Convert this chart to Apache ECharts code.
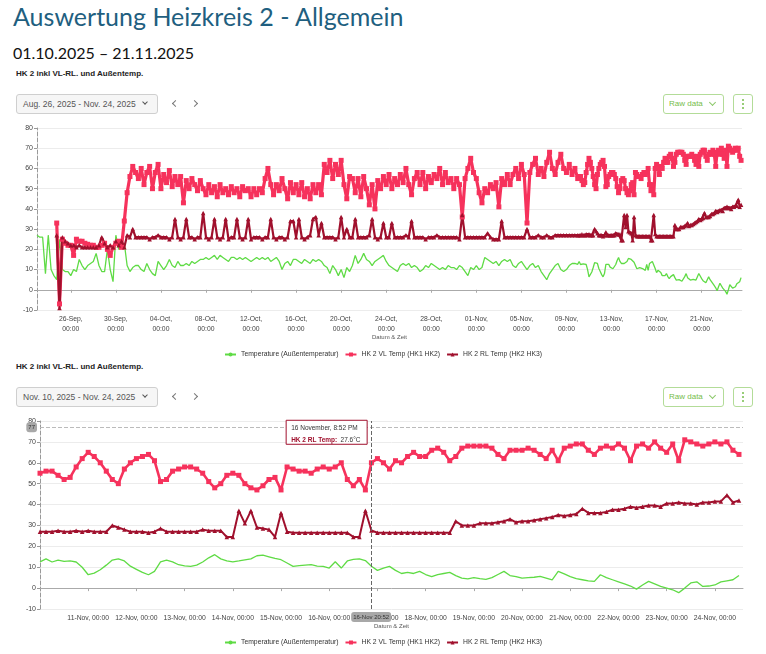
<!DOCTYPE html>
<html>
<head>
<meta charset="utf-8">
<title>Auswertung Heizkreis 2 - Allgemein</title>
<script src="https://cdn.jsdelivr.net/npm/echarts@6/dist/echarts.min.js"></script>
<style>
  html, body { margin: 0; padding: 0; background: #fff; }
  #page { position: relative; width: 766px; height: 654px; overflow: hidden; font-family: 'Liberation Sans', Arial, sans-serif; }
  .title { position: absolute; left: 13px; top: 1px; font-family: Lato, 'Open Sans', sans-serif; font-size: 25px; color: #1f5f80; white-space: nowrap; }
  .period { position: absolute; left: 13px; top: 43px; font-family: Lato, 'Open Sans', sans-serif; font-size: 16px; color: #111; white-space: nowrap; }
  .caption { position: absolute; left: 16px; font-size: 8px; font-weight: bold; color: #222; white-space: nowrap; }
  .range { position: absolute; left: 16px; width: 142px; height: 20px; box-sizing: border-box; border: 1px solid #cfcfcf; border-radius: 3px; background: #f6f6f6; font-size: 8.5px; color: #555; line-height: 18px; padding-left: 6px; white-space: nowrap; }
  .range .chev { position: absolute; right: 10px; top: 5px; width: 3px; height: 3px; border-right: 1.4px solid #555; border-bottom: 1.4px solid #555; transform: rotate(45deg); }
  .nav { position: absolute; width: 4px; height: 4px; border-left: 1px solid #777; border-bottom: 1px solid #777; }
  .nav.prev { left: 173px; transform: rotate(45deg); }
  .nav.next { left: 192px; transform: rotate(-135deg); }
  .raw { position: absolute; left: 663px; width: 61px; height: 20px; box-sizing: border-box; border: 1px solid #b3dc98; border-radius: 3px; color: #76bd4b; font-size: 8px; line-height: 18px; padding-left: 5px; white-space: nowrap; }
  .raw .chev { position: absolute; right: 8px; top: 5px; width: 4px; height: 4px; border-right: 1px solid #8cc86a; border-bottom: 1px solid #8cc86a; transform: rotate(45deg); }
  .more { position: absolute; left: 733px; width: 20px; height: 20px; box-sizing: border-box; border: 1px solid #b3dc98; border-radius: 3px; }
  .more i { position: absolute; left: 8px; width: 2px; height: 2px; border-radius: 1px; background: #76bd4b; }
  .chart { position: absolute; left: 0; width: 766px; }
</style>
</head>
<body>
<div id="page">
  <div class="title">Auswertung Heizkreis 2 - Allgemein</div>
  <div class="period">01.10.2025 – 21.11.2025</div>

  <div class="caption" style="top:69px">HK 2 inkl VL-RL. und Außentemp.</div>
  <div class="range" style="top:94px">Aug. 26, 2025 - Nov. 24, 2025<span class="chev"></span></div>
  <div class="nav prev" style="top:101px"></div>
  <div class="nav next" style="top:101px"></div>
  <div class="raw" style="top:94px">Raw data<span class="chev"></span></div>
  <div class="more" style="top:94px"><i style="top:4px"></i><i style="top:8px"></i><i style="top:12px"></i></div>
  <div id="chart1" class="chart" style="top:120px;height:240px"></div>

  <div class="caption" style="top:362px">HK 2 inkl VL-RL. und Außentemp.</div>
  <div class="range" style="top:387px">Nov. 10, 2025 - Nov. 24, 2025<span class="chev"></span></div>
  <div class="nav prev" style="top:394px"></div>
  <div class="nav next" style="top:394px"></div>
  <div class="raw" style="top:387px">Raw data<span class="chev"></span></div>
  <div class="more" style="top:387px"><i style="top:4px"></i><i style="top:8px"></i><i style="top:12px"></i></div>
  <div id="chart2" class="chart" style="top:410px;height:244px"></div>
</div>

<script>
// Zeitraster: Sep 23 - Nov 10 alle 6 Stunden, Nov 10 - Nov 24 alle 3 Stunden
var HOUR = 3600 * 1000;
var startA = Date.UTC(2025, 8, 23);
var stepA = 6 * HOUR;
var startB = Date.UTC(2025, 10, 10);
var stepB = 3 * HOUR;
var endTime = Date.UTC(2025, 10, 24, 14);

// Außentemperatur, 23.09. - 09.11. (4 Werte pro Tag)
var outdoorA = [
  27, 26, 26, 8,   27, 10, 7, 5,    25, 10, 9, 9,    7, 10, 9, 15,
  12, 10, 12, 13,  14, 18, 12, 9,   9, 20, 10, 4,    27, 20, 22, 23,
  12, 9, 11, 12,   12, 10, 9, 13,   10, 8, 7, 14,    12, 10, 12, 15,
  12, 11, 14, 12,  12, 13, 12, 14,  13, 14, 15, 15,  16, 15, 16, 17,
  15, 17, 16, 15,  14, 16, 16, 15,  16, 15, 16, 15,  14, 15, 16, 15,
  16, 15, 16, 14,  15, 16, 14, 10,  13, 14, 12, 15,  15, 14, 13, 15,
  14, 13, 15, 14,  15, 14, 12, 11,  8, 12, 10, 7,    10, 6, 11, 9,
  12, 17, 13, 15,  18, 15, 14, 12,  14, 15, 16, 17,  14, 12, 11, 10,
  9, 12, 13, 12,   13, 11, 12, 11,  9, 10, 12, 11,   13, 12, 11, 10,
  11, 10, 12, 11,  11, 10, 12, 11,  9, 7, 11, 10,    12, 10, 11, 16,
  15, 14, 13, 14,  12, 14, 15, 14,  15, 12, 11, 13,  14, 12, 10, 12,
  13, 11, 12, 9,   7, 5, 8, 10,     12, 13, 10, 9,   10, 12, 13, 13
];
// HK 2 VL Temp, 23.09. - 09.11.
var vlA = [
  null, null, null, null,  null, null, null, 33,  -7, 25, 23, 22,  22, 17, 25, 24,
  24, 23, 22.5, 22,  22, 21, 21, 22,  23, 20, 17, 21,  23, 24, 21, 34,
  48, 56, 61, 58,  55, 60, 52, 58,  61, 50, 58, 62,  50, 57, 53, 59,
  51, 56, 52, 56,  43, 54, 50, 55,  52, 49, 54, 50,  47, 52, 48, 51,
  46, 52, 48, 50,  47, 51, 48, 50,  46, 51, 49, 50,  46, 50, 47, 50,
  48, 55, 60, 52,  47, 52, 49, 55,  50, 45, 53, 48,  52, 47, 53, 46,
  50, 45, 52, 48,  52, 47, 62, 58,  64, 55, 62, 57,  64, 52, 45, 56,
  55, 48, 55, 46,  56, 50, 42, 52,  40, 54, 50, 56,  52, 57, 50, 55,
  52, 57, 53, 60,  52, 47, 55, 58,  52, 58, 50, 56,  53, 57, 55, 60,
  52, 58, 53, 55,  50, 55, 52, 36,  55, 60, 65, 58,  55, 48, 43, 50,
  48, 52, 50, 53,  41, 55, 52, 57,  52, 57, 60, 55,  62, 57, 33, 58,
  62, 65, 57, 60,  56, 63, 68, 60,  57, 63, 67, 60,  58, 62, 57, 60
];
// HK 2 RL Temp, 23.09. - 09.11.
var rlA = [
  null, null, null, null,  null, null, null, 27,  -9, 26, 24, 23,  22, 22, 21, 22,
  21, 21, 21, 21,  21, 21, 22, 26,  23, 21, 22, 21,  24, 22, 24, 21,
  27, 26, 30, 26,  26, 26, 26, 26,  25, 26, 26, 27,  26, 26, 26, 25,
  26, 35, 26, 25,  26, 35, 26, 26,  25, 26, 26, 38,  26, 25, 26, 35,
  26, 25, 26, 35,  25, 26, 26, 35,  26, 25, 26, 35,  25, 26, 26, 26,
  25, 26, 26, 35,  26, 25, 26, 26,  25, 26, 34, 34,  26, 35, 26, 25,
  26, 27, 35, 36,  27, 33, 26, 26,  26, 26, 25, 26,  36, 26, 30, 26,
  26, 35, 26, 26,  26, 26, 27, 35,  26, 25, 26, 33,  26, 26, 33, 26,
  26, 26, 26, 27,  26, 34, 26, 26,  26, 26, 25, 26,  26, 26, 27, 26,
  26, 26, 26, 26,  26, 26, 25, 37,  26, 26, 26, 26,  26, 26, 26, 26,
  28, 26, 25, 25,  25, 34, 26, 26,  26, 26, 26, 26,  26, 26, 30, 26,
  26, 26, 27, 26,  26, 27, 26, 26,  27, 27, 27, 27,  27, 27, 27, 27
];

// Außentemperatur, 10.11. - 24.11. (8 Werte pro Tag)
var outdoorB = [
  12.6, 14, 12.5, 13.4, 12.8, 13, 12.5, 10,
  6.4, 7.2, 8.8, 11, 13.4, 14, 13, 10.5,
  9, 7.5, 6.4, 8, 12.6, 13.4, 12.6, 11.2,
  10.6, 10.4, 11, 12.5, 14.5, 16, 14, 13,
  12.6, 13, 13.5, 14, 15.5, 15.8, 15, 14.2,
  13.6, 12, 10.4, 10.8, 11, 11.2, 10.5, 10.4,
  9.6, 12.6, 9.6, 13, 13.8, 14, 13.2, 10.5,
  8.5, 9.6, 10.4, 8.5, 7, 7.5, 7, 8,
  6.5, 5.5, 6.5, 7, 7.5, 6, 4.8, 4.4,
  5, 4.5, 4.2, 5, 6.5, 8, 6, 5.5,
  4.8, 5, 5.2, 5.6, 4.8, 4, 8, 6.8,
  5.5, 4.5, 4, 3.5, 3.2, 6.4, 5, 4,
  3, 2, 1, -0.5, 1.5, 3.2, 2, 0.8,
  0, -0.8, -2.2, 0, 2.5, 3, 0.8, 1,
  1.5, 3, 3.5, 4, 6
];
// HK 2 VL Temp, 10.11. - 24.11.
var vlB = [
  55, 56, 56, 54, 52, 53, 58, 62,
  65, 63, 60, 56, 52, 50, 57, 60,
  62, 63, 64, 61, 51, 52, 56, 57,
  58, 58, 57, 55, 51, 48, 50, 54,
  55, 54, 50, 48, 47, 49, 52, 53,
  47, 58, 57, 56, 56, 55, 57, 58,
  57, 58, 60, 52, 49, 52, 47, 60,
  62, 60, 57, 61, 60, 63, 65, 63,
  63, 66, 67, 65, 61, 63, 67, 68,
  68, 68, 68, 67, 64, 62, 66, 66,
  66, 67, 66, 64, 62, 66, 61, 67,
  68, 69, 69, 66, 64, 67, 68, 67,
  69, 67, 61, 68, 69, 67, 70, 67,
  65, 69, 61, 71, 70, 69, 68, 69,
  70, 69, 70, 66, 64
];
// HK 2 RL Temp, 10.11. - 24.11.
var rlB = [
  27, 27, 27, 27.5, 27, 27, 27.5, 27,
  27.5, 27, 27, 27, 30, 29, 28, 27,
  27, 27, 26.5, 27, 28.5, 27, 27, 27,
  27, 27, 27, 28, 27.5, 27.5, 27.5, 24.5,
  24.5, 37, 31, 37, 29, 28.5, 28, 24.5,
  36, 27, 26.5, 26.5, 26.5, 26.5, 26.5, 26.5,
  26.5, 26.5, 26.5, 26.5, 24.5, 24.5, 37, 27.6,
  26.5, 26.5, 26.5, 26.5, 26.5, 26.5, 26.5, 26.5,
  26.5, 26.5, 26.5, 26.5, 26.5, 32, 30, 30,
  30, 31, 31, 31, 31.5, 32, 33, 31.5,
  32, 32, 32.5, 33, 33.5, 34, 35, 34.5,
  35, 35.5, 38, 36, 36, 36, 36.5, 37.5,
  37.5, 38, 39, 38.5, 39, 39.5, 39.5, 39,
  40.5, 40.5, 41, 40.5, 40.5, 40, 41, 41,
  41.5, 41.5, 44.5, 41, 42
];

// Achsenbeschriftungen
var ticks1 = ['2025-09-26', '2025-09-30', '2025-10-04', '2025-10-08', '2025-10-12',
  '2025-10-16', '2025-10-20', '2025-10-24', '2025-10-28', '2025-11-01',
  '2025-11-05', '2025-11-09', '2025-11-13', '2025-11-17', '2025-11-21'];
var ticks2 = ['2025-11-11', '2025-11-12', '2025-11-13', '2025-11-14', '2025-11-15',
  '2025-11-16', '2025-11-17', '2025-11-18', '2025-11-19', '2025-11-20',
  '2025-11-21', '2025-11-22', '2025-11-23', '2025-11-24'];
var yMin = -10, yMax = 80, yStep = 10;

// Cursor / Tooltip im zweiten Diagramm
var hoverTime = Date.UTC(2025, 10, 16, 20, 52);
var hoverY = 77;
var hoverIndex = 55; // 16.11. 21:00 in rlB
var hoverTitle = '16 November, 8:52 PM';

var names = ['Temperature (Außentemperatur)', 'HK 2 VL Temp (HK1 HK2)', 'HK 2 RL Temp (HK2 HK3)'];
var colors = ['#5fdb45', '#f6325c', '#a0102d'];
var months = ['Jan', 'Feb', 'Mar', 'Apr', 'May', 'Jun', 'Jul', 'Aug', 'Sep', 'Oct', 'Nov', 'Dec'];
var font = "'Liberation Sans', Arial, sans-serif";

function utc(s) {
  var p = s.split('-');
  return Date.UTC(+p[0], +p[1] - 1, +p[2]);
}
function pad(n) {
  return (n < 10 ? '0' : '') + n;
}
function dayLabel(v, sep) {
  var d = new Date(Math.round(v));
  return pad(d.getUTCDate()) + '-' + months[d.getUTCMonth()] + sep + pad(d.getUTCHours()) + ':' + pad(d.getUTCMinutes());
}
function pairs(start, step, values) {
  return values.map(function (v, i) { return [start + i * step, v]; });
}

// st: Linien- und Symbolgrößen je Diagramm
function makeSeries(g, vl, rl, st) {
  return [
    {
      name: names[0], type: 'line', data: g, symbol: 'none',
      lineStyle: { width: 1.3, color: colors[0] }, itemStyle: { color: colors[0] }
    },
    {
      name: names[1], type: 'line', data: vl, symbol: 'rect', symbolSize: st.vlSym,
      showAllSymbol: true, lineStyle: { width: st.vlLine, color: colors[1] }, itemStyle: { color: colors[1] }
    },
    {
      name: names[2], type: 'line', data: rl, symbol: 'triangle', symbolSize: st.rlSym,
      showAllSymbol: true, lineStyle: { width: st.rlLine, color: colors[2] }, itemStyle: { color: colors[2] }
    }
  ];
}

function xAxisCfg(min, ticks, sep, nameGap) {
  return {
    type: 'value', min: min, max: endTime,
    name: 'Datum & Zeit', nameLocation: 'middle', nameGap: nameGap, nameMoveOverlap: false,
    nameTextStyle: { fontSize: 6, color: '#555' },
    axisLine: { lineStyle: { color: '#aaa' } },
    axisTick: { show: true, length: 3, customValues: ticks, lineStyle: { color: '#aaa' } },
    axisLabel: {
      customValues: ticks, fontSize: 6.8, color: '#444', lineHeight: 10, margin: 4,
      formatter: function (v) { return dayLabel(v, sep); }
    },
    splitLine: { show: false }
  };
}

function yAxisCfg() {
  return {
    type: 'value', min: yMin, max: yMax, interval: yStep,
    axisLine: { show: true, lineStyle: { color: '#999', type: 'dashed', width: 1 } },
    axisTick: { show: true, length: 3, lineStyle: { color: '#999' } },
    axisLabel: { fontSize: 7, color: '#444', margin: 4 },
    splitLine: { lineStyle: { color: '#ececec', width: 1 } }
  };
}

function legendCfg(top) {
  return {
    top: top, left: 'center', itemWidth: 11, itemHeight: 5, itemGap: 6,
    textStyle: { fontSize: 6.8, color: '#333' }, data: names
  };
}

// Diagramm 1: gesamter Zeitraum
var chart1 = echarts.init(document.getElementById('chart1'));
var option1 = {
  animation: false,
  textStyle: { fontFamily: font },
  grid: { left: 37, right: 24, top: 8, bottom: 50 },
  legend: legendCfg(226),
  xAxis: xAxisCfg(startA, ticks1.map(utc), ',\n', 24),
  yAxis: yAxisCfg(),
  series: makeSeries(
    pairs(startA, stepA, outdoorA).concat(pairs(startB, stepB, outdoorB)),
    pairs(startA, stepA, vlA).concat(pairs(startB, stepB, vlB)),
    pairs(startA, stepA, rlA).concat(pairs(startB, stepB, rlB)),
    { vlSym: 5, vlLine: 3.2, rlSym: 4.5, rlLine: 2.2 }
  )
};
chart1.setOption(option1);

// Diagramm 2: 10.11. - 24.11.
var chart2 = echarts.init(document.getElementById('chart2'));
var xAxis2 = xAxisCfg(startB, ticks2.map(utc), ', ', 14);
var yAxis2 = yAxisCfg();
xAxis2.axisPointer = {
  show: true, status: 'show', value: hoverTime, type: 'line', triggerTooltip: false,
  lineStyle: { color: '#666', type: 'dashed', width: 1 },
  label: { show: true, backgroundColor: '#a8a8a8', color: '#333', fontSize: 6, padding: [2, 2],
    formatter: function (p) { return dayLabel(p.value, ' '); } }
};
yAxis2.axisPointer = {
  show: true, status: 'show', value: hoverY, type: 'line', triggerTooltip: false,
  lineStyle: { color: '#bbb', type: 'dashed', width: 1 },
  label: { show: true, backgroundColor: '#a8a8a8', color: '#333', fontSize: 6, padding: [2, 2],
    formatter: function (p) { return String(Math.round(p.value)); } }
};
var option2 = {
  animation: false,
  textStyle: { fontFamily: font },
  grid: { left: 40, right: 23, top: 11, bottom: 45 },
  legend: legendCfg(224),
  xAxis: xAxis2,
  yAxis: yAxis2,
  series: makeSeries(pairs(startB, stepB, outdoorB), pairs(startB, stepB, vlB), pairs(startB, stepB, rlB),
    { vlSym: 5, vlLine: 2.6, rlSym: 4.5, rlLine: 2 })
};
chart2.setOption(option2);

// Tooltip-Kasten links neben dem Cursor (eigene Ebene über dem Achsenzeiger)
var p = chart2.convertToPixel({ gridIndex: 0 }, [hoverTime, hoverY]);
var boxW = 81, boxH = 24;
var bx = p[0] - 4 - boxW, by = p[1] - 7;
chart2.setOption({
  graphic: [
    { type: 'rect', zlevel: 1, z: 100, shape: { x: bx, y: by, width: boxW, height: boxH },
      style: { fill: '#fff', stroke: colors[2], lineWidth: 1 } },
    { type: 'text', zlevel: 1, z: 101, x: bx + 5, y: by + 4,
      style: { text: hoverTitle, fontSize: 6.5, fill: '#333', fontFamily: font } },
    { type: 'text', zlevel: 1, z: 101, x: bx + 5, y: by + 14,
      style: {
        text: '{b|' + names[2].split(' (')[0] + ':} {v|' + rlB[hoverIndex].toFixed(1) + '°C}',
        fontFamily: font,
        rich: {
          b: { fontSize: 6.5, fontWeight: 'bold', fill: colors[2] },
          v: { fontSize: 6.5, fill: '#333' }
        }
      } }
  ]
});
</script>
</body>
</html>
